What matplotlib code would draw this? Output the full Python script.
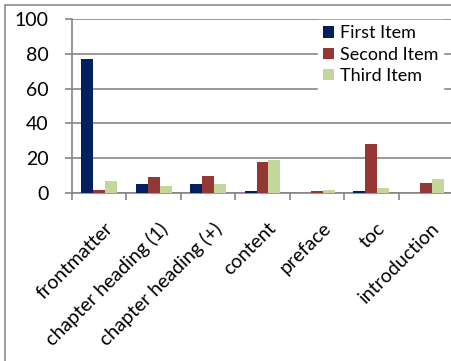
import matplotlib
matplotlib.use("Agg")
import matplotlib.pyplot as plt
import numpy as np
from matplotlib.patches import Rectangle
from matplotlib.transforms import ScaledTranslation

# ── Data ──────────────────────────────────────────────────────────────────────
categories = ["frontmatter", "chapter heading (1)", "chapter heading (+)",
              "content", "preface", "toc", "introduction"]
first_item = [77, 5, 5, 1, 0, 1, 0]
second_item = [2, 9, 10, 18, 1, 28, 6]
third_item = [7, 4, 5, 19, 2, 3, 8]
series_names = ["First Item", "Second Item", "Third Item"]
colors = ["#002060", "#953735", "#C3D69B"]
grid_c = "#868686"

plt.rcParams["font.family"] = ["Lato", "DejaVu Sans"]

fig = plt.figure(figsize=(4.52, 3.61), dpi=100)
# outer chart frame (cropped on the right and bottom)
fig.patches.append(Rectangle((5 / 452, -0.1), 1.2, (361 - 5) / 361 + 0.1,
                             transform=fig.transFigure, fill=False,
                             edgecolor="#8c8c8c", linewidth=1.2))

ax = fig.add_axes([72 / 452, 1 - 193 / 361, (453 - 72) / 452, (193 - 19) / 361])

x = np.arange(len(categories))
w = 0.22
for i, vals in enumerate([first_item, second_item, third_item]):
    ax.bar(x + (i - 1) * w, vals, width=w, color=colors[i],
           label=series_names[i], zorder=3)

ax.set_xlim(-0.5, len(categories) - 0.5)
ax.set_ylim(0, 100)
ax.set_yticks(range(0, 101, 20))
ax.yaxis.grid(True, color=grid_c, linewidth=1.2, zorder=0)
ax.set_axisbelow(True)

ax.set_xticks(x)
ax.set_xticklabels(categories, rotation=45, ha="right", rotation_mode="anchor",
                   fontsize=14)
ax.set_xticks(np.arange(-0.5, len(categories), 1), minor=True)
ax.tick_params(axis="x", which="major", length=0, pad=19)
ax.tick_params(axis="x", which="minor", length=5, color=grid_c, width=1.2)
ax.tick_params(axis="y", length=5, color=grid_c, width=1.2, labelsize=14, pad=12)

# nudge the rotated labels a little to the right (after tick_params)
shift = ScaledTranslation(5 / 100, 0, fig.dpi_scale_trans)
for tick in ax.xaxis.get_major_ticks():
    tick.label1.set_transform(tick.label1.get_transform() + shift)

for s in ["top", "right"]:
    ax.spines[s].set_visible(False)
for s in ["left", "bottom"]:
    ax.spines[s].set_color(grid_c)
    ax.spines[s].set_linewidth(1.2)

leg = ax.legend(loc="upper right", bbox_to_anchor=(0.975, 0.995), frameon=True,
                fontsize=13, handlelength=0.6, handleheight=0.6,
                handletextpad=0.3, labelspacing=0.3, borderpad=0.3,
                borderaxespad=0.0)
leg.get_frame().set_edgecolor("white")
leg.get_frame().set_facecolor("white")
leg.get_frame().set_alpha(1)
leg.get_frame().set_boxstyle("square", pad=0)

fig.savefig("out.png", dpi=100)
